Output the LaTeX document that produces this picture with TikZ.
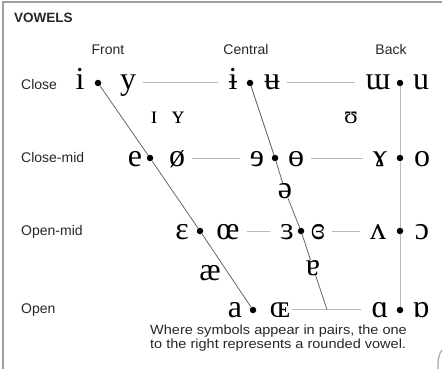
\documentclass[tikz,border=0pt]{standalone}
\usepackage{fontspec}
\setmainfont{Liberation Sans}
\newfontfamily\ipafont{Liberation Serif}
\newfontfamily\notefont[FakeStretch=1.1]{Liberation Sans}
\begin{document}
\begin{tikzpicture}[x=1pt,y=-1pt,
  lab/.style={font=\fontsize{14}{14}\selectfont,text=black!85,inner sep=0pt},
  ipa/.style={font=\ipafont\fontsize{32}{32}\selectfont,inner sep=0pt,anchor=base,text height=14.7pt,text depth=0pt},
  ipasmall/.style={ipa,font=\ipafont\fontsize{25}{25}\selectfont},
  dot/.style={circle,fill=black,inner sep=0pt,minimum size=6.5pt},
  hline/.style={gray!55,line width=0.8pt,shorten <=7pt,shorten >=10pt},
  diag/.style={black!60,line width=0.8pt},
  frame/.style={gray!75,line width=2pt}]
\useasboundingbox (0,0) rectangle (442,369);
\draw[frame] (3,369) -- (3,2.5) -- (442,2.5);
\draw[gray!70,line width=1.2pt] (442,350) .. controls (438.5,354) and (437.5,362) .. (438,369);
\node[lab,font=\bfseries\fontsize{13.5}{13.5}\selectfont,anchor=base west] (title) at (14,23) {VOWELS};
\node[lab,anchor=base] (front) at (108,55) {Front};
\node[lab,anchor=base] (central) at (246,55) {Central};
\node[lab,anchor=base] (back) at (391,55) {Back};
\node[lab,anchor=base west] (close) at (21,89) {Close};
\node[lab,anchor=base west] (closemid) at (21,162) {Close-mid};
\node[lab,anchor=base west] (openmid) at (21,235) {Open-mid};
\node[lab,anchor=base west] (open) at (21,313) {Open};
% close
\node[ipa] (i) at (80,90) {i};
\node[ipa] (y) at (128,90) {y};
\node[ipa] (ibar) at (233,90) {ɨ};
\node[ipa] (ubar) at (272,90) {ʉ};
\node[ipa] (turnm) at (378,90) {ɯ};
\node[ipa] (u) at (421,90) {u};
\node[dot] (fc) at (98,83) {};
\node[dot] (cc) at (250,83) {};
\node[dot] (bc) at (400,83) {};
\node[ipasmall] (smi) at (154,123) {ɪ};
\node[ipasmall] (smy) at (178,123) {ʏ};
\node[ipasmall] (upsilon) at (351,123) {ʊ};
% close-mid
\node[ipa] (e) at (135,166) {e};
\node[ipa] (oslash) at (177,166) {ø};
\node[ipa] (reve) at (257,166) {ɘ};
\node[ipa] (obar) at (296,166) {ɵ};
\node[ipa] (ramshorn) at (380,166) {ɤ};
\node[ipa] (o) at (422,166) {o};
\node[dot] (fcm) at (150,158) {};
\node[dot] (ccm) at (275,158) {};
\node[dot] (bcm) at (400,158) {};
\node[ipa] (schwa) at (285,198) {ə};
% open-mid
\node[ipa] (epsilon) at (182,239) {ɛ};
\node[ipa] (oe) at (228,239) {œ};
\node[ipa] (revepsilon) at (287,239) {ɜ};
\node[ipa] (closedrev) at (318,239) {ɞ};
\node[ipa] (turnv) at (378,239) {ʌ};
\node[ipa] (openo) at (422,239) {ɔ};
\node[dot] (fom) at (200,231) {};
\node[dot] (com) at (301,231) {};
\node[dot] (bom) at (400,231) {};
\node[ipa] (ash) at (210,280) {æ};
\node[ipa] (turna) at (313,275) {ɐ};
% open
\node[ipa] (a) at (235,317) {a};
\node[ipa] (smoe) at (280,317) {ɶ};
\node[ipa] (scripta) at (380,317) {ɑ};
\node[ipa] (turnscripta) at (421,317) {ɒ};
\node[dot] (fo) at (253,310) {};
\node[dot] (bo) at (400,310) {};
\coordinate (co) at (327,309.6);
\draw[hline] (y.east) -- (ibar.west);
\draw[hline] (ubar.east) -- (turnm.west);
\draw[hline] (oslash.east) -- (reve.west);
\draw[hline] (obar.east) -- (ramshorn.west);
\draw[hline] (oe.east) -- (revepsilon.west);
\draw[hline] (closedrev.east) -- (turnv.west);
\draw[hline,shorten <=2pt] (smoe.east) -- (scripta.west);
\draw[diag] (fc) -- (fcm) -- (fom) -- (fo);
\draw[diag] (cc) -- (ccm) -- (schwa) -- (com) -- (turna) -- (co);
\draw[hline,shorten <=0pt,shorten >=0pt] (bc) -- (bcm) -- (bom) -- (bo);
\node[font=\notefont\fontsize{13.2}{13.5}\selectfont,text=black!85,inner sep=0pt,align=left,anchor=north west] (note) at (150,325) {Where symbols appear in pairs, the one\\to the right represents a rounded vowel.};
\end{tikzpicture}
\end{document}
